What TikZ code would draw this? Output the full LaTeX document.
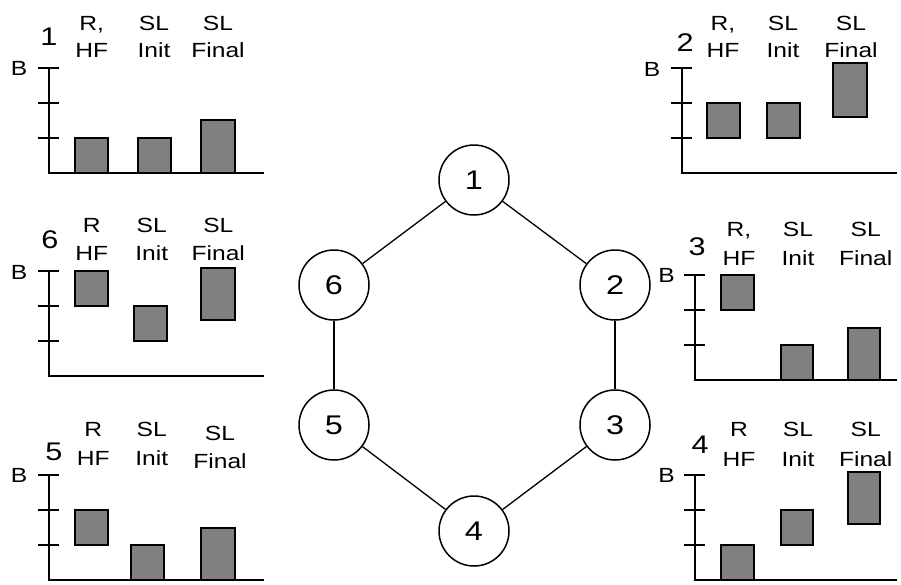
\documentclass[tikz,border=0pt]{standalone}
\usepackage{fontspec}
\setmainfont{Liberation Sans}
\newfontfamily\widesans[FakeStretch=1.2]{Liberation Sans}
\definecolor{barfill}{HTML}{808080}
\newcommand\drawaxes[3]{%
  \draw[axisline] (#1,#2-105) -- (#1,#2) -- (#3,#2);
  \foreach \k in {1,2,3} \draw[axisline] (#1-11,#2-35*\k) -- (#1+10,#2-35*\k);
}
\newcommand\levelbar[5]{\draw[barbox] (#1+1,#5-35*#3) rectangle (#2-1,#5-35*#4);}
\tikzset{
  axisline/.style={line width=2pt},
  barbox/.style={draw, line width=2pt, fill=barfill},
  lbl/.style={font=\widesans\fontsize{20.5}{25}\selectfont, inner sep=0pt, anchor=base},
  pnum/.style={font=\widesans\fontsize{25.5}{30}\selectfont, inner sep=0pt, anchor=base},
  hexnode/.style={circle, draw, line width=1.5pt, minimum size=70pt, inner sep=0pt, fill=white, font=\widesans\fontsize{27}{32}\selectfont},
  hexedge/.style={line width=1.3pt}
}
\begin{document}
\begin{tikzpicture}[x=1pt,y=-1pt]
\useasboundingbox (0,0) rectangle (901,584);

% ---------- central ring ----------
\node[hexnode] (n1) at (474,180) {1};
\node[hexnode] (n2) at (615,285) {2};
\node[hexnode] (n3) at (615,425) {3};
\node[hexnode] (n4) at (474,531) {4};
\node[hexnode] (n5) at (334,425) {5};
\node[hexnode] (n6) at (334,285) {6};
\draw[hexedge] (n1) -- (n2);
\draw[hexedge] (n2) -- (n3);
\draw[hexedge] (n3) -- (n4);
\draw[hexedge] (n4) -- (n5);
\draw[hexedge] (n5) -- (n6);
\draw[hexedge] (n6) -- (n1);

% ---------- panel 1 ----------
\drawaxes{49.3}{172.7}{264}
\levelbar{74}{109}{0}{1}{172.7}
\levelbar{136.7}{171.7}{0}{1}{172.7}
\levelbar{200}{235.7}{0}{1.5}{172.7}
\node[pnum] (p1n) at (49,45) {1};
\node[lbl] (p1b) at (19,75) {B};
\node[lbl] (p1a) at (91.7,30) {R,};
\node[lbl] (p1c) at (91.7,57.5) {HF};
\node[lbl] (p1d) at (154,30) {SL};
\node[lbl] (p1e) at (154,57.5) {Init};
\node[lbl] (p1f) at (218,30) {SL};
\node[lbl] (p1g) at (218,57.5) {Final};

% ---------- panel 2 ----------
\drawaxes{681.7}{172.7}{897}
\levelbar{705.7}{740.7}{1}{2}{172.7}
\levelbar{765.7}{801}{1}{2}{172.7}
\levelbar{832.3}{867.7}{1.6}{3.13}{172.7}
\node[pnum] (p2n) at (685,51.7) {2};
\node[lbl] (p2b) at (652,76) {B};
\node[lbl] (p2a) at (723,30) {R,};
\node[lbl] (p2c) at (723,57.5) {HF};
\node[lbl] (p2d) at (783,30) {SL};
\node[lbl] (p2e) at (783,57.5) {Init};
\node[lbl] (p2f) at (851,30) {SL};
\node[lbl] (p2g) at (851,57.5) {Final};

% ---------- panel 6 ----------
\drawaxes{49.3}{376}{264}
\levelbar{74}{109}{2}{3}{376}
\levelbar{133.3}{168.3}{1}{2}{376}
\levelbar{200}{235.7}{1.6}{3.1}{376}
\node[pnum] (p6n) at (50,248) {6};
\node[lbl] (p6b) at (19,279) {B};
\node[lbl] (p6a) at (91.7,232) {R};
\node[lbl] (p6c) at (91.7,260.5) {HF};
\node[lbl] (p6d) at (151.7,232) {SL};
\node[lbl] (p6e) at (151.7,260.5) {Init};
\node[lbl] (p6f) at (218.3,232) {SL};
\node[lbl] (p6g) at (218.3,260.5) {Final};

% ---------- panel 3 ----------
\drawaxes{695}{380}{897}
\levelbar{720}{755}{2}{3}{380}
\levelbar{780}{814.3}{0}{1}{380}
\levelbar{846.7}{881}{0}{1.5}{380}
\node[pnum] (p3n) at (697,255) {3};
\node[lbl] (p3b) at (666.5,282) {B};
\node[lbl] (p3a) at (739,236.7) {R,};
\node[lbl] (p3c) at (739,265.5) {HF};
\node[lbl] (p3d) at (798,236.7) {SL};
\node[lbl] (p3e) at (798,265.5) {Init};
\node[lbl] (p3f) at (865.7,236.7) {SL};
\node[lbl] (p3g) at (865.7,265.5) {Final};

% ---------- panel 5 ----------
\drawaxes{49.3}{580}{264}
\levelbar{74}{109}{1}{2}{580}
\levelbar{130}{165}{0}{1}{580}
\levelbar{200}{235.7}{0}{1.5}{580}
\node[pnum] (p5n) at (54,460) {5};
\node[lbl] (p5b) at (19,482) {B};
\node[lbl] (p5a) at (93.3,436) {R};
\node[lbl] (p5c) at (93.3,465) {HF};
\node[lbl] (p5d) at (151.7,436) {SL};
\node[lbl] (p5e) at (151.7,465) {Init};
\node[lbl] (p5f) at (220,440) {SL};
\node[lbl] (p5g) at (220,468.3) {Final};

% ---------- panel 4 ----------
\drawaxes{695}{580}{897}
\levelbar{720}{755}{0}{1}{580}
\levelbar{780}{814.3}{1}{2}{580}
\levelbar{846.7}{881}{1.6}{3.1}{580}
\node[pnum] (p4n) at (700,453) {4};
\node[lbl] (p4b) at (666.5,482) {B};
\node[lbl] (p4a) at (739,436) {R};
\node[lbl] (p4c) at (739,466) {HF};
\node[lbl] (p4d) at (798,436) {SL};
\node[lbl] (p4e) at (798,466) {Init};
\node[lbl] (p4f) at (865.7,436) {SL};
\node[lbl] (p4g) at (865.7,466) {Final};
\end{tikzpicture}
\end{document}
